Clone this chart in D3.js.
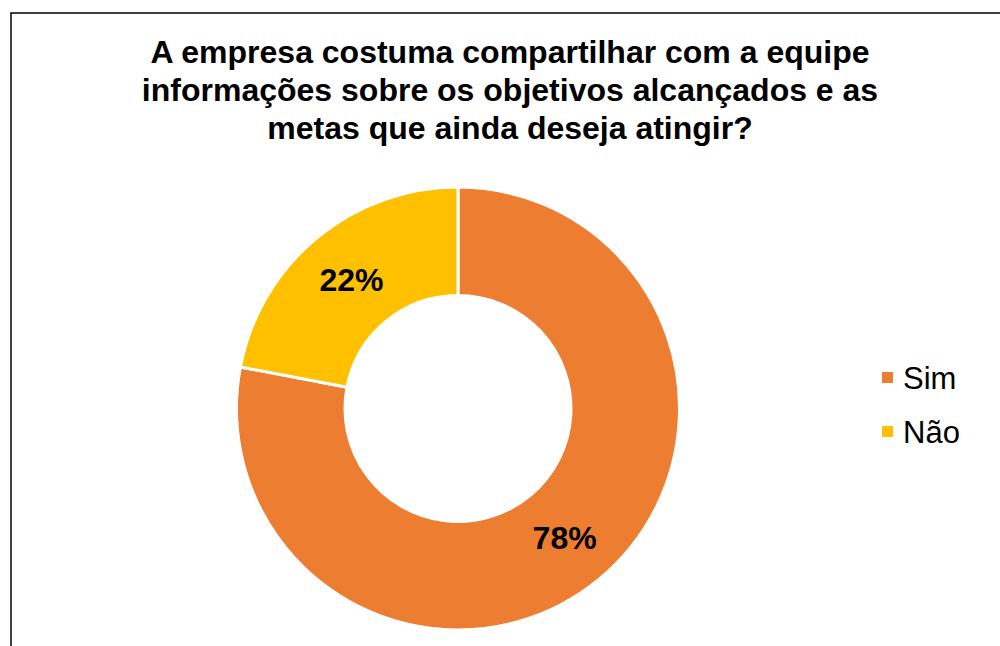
<!DOCTYPE html>
<html><head><meta charset="utf-8">
<script src="https://cdn.jsdelivr.net/npm/d3@7"></script>
<style>body{margin:0;background:#fff}svg{display:block}</style>
</head><body>
<svg id="c" width="1000" height="646"></svg>
<script>
const categories = ["Sim", "Não"];
const values = [78, 22];
const colors = ["#ED7D31", "#FFC000"];
const titleLines = ["A empresa costuma compartilhar com a equipe", "informações sobre os objetivos alcançados e as", "metas que ainda deseja atingir?"];

const svg = d3.select("#c");
svg.append("rect").attr("x", 11).attr("y", 13).attr("width", 1000).attr("height", 700)
  .attr("fill", "#fff").attr("stroke", "#000").attr("stroke-width", 1.5);

const font = "'Liberation Sans', Arial, sans-serif";
svg.append("g").selectAll("text").data(titleLines).join("text")
  .attr("x", 510).attr("y", (d, i) => 63 + i * 38)
  .attr("text-anchor", "middle").attr("font-family", font)
  .attr("font-weight", "bold").attr("font-size", 32).attr("fill", "#000")
  .text(d => d);

const cx = 458, cy = 408.5, R = 221.5, r = 113;
const pie = d3.pie().sort(null).value(d => d)(values);
const arc = d3.arc().innerRadius(r).outerRadius(R);
const g = svg.append("g").attr("transform", `translate(${cx},${cy})`);
g.selectAll("path").data(pie).join("path")
  .attr("d", arc).attr("fill", (d, i) => colors[i])
  .attr("stroke", "#fff").attr("stroke-width", 3);
g.selectAll("text").data(pie).join("text")
  .attr("transform", d => `translate(${arc.centroid(d)})`)
  .attr("text-anchor", "middle").attr("dy", "0.36em")
  .attr("font-family", font).attr("font-weight", "bold").attr("font-size", 32)
  .text(d => d.value + "%");

const leg = svg.append("g").selectAll("g").data(categories).join("g")
  .attr("transform", (d, i) => `translate(882,${372 + i * 54})`);
leg.append("rect").attr("width", 11).attr("height", 11).attr("fill", (d, i) => colors[i]);
leg.append("text").attr("x", 21).attr("y", 17).attr("font-family", font)
  .attr("font-size", 31).attr("fill", "#000").text(d => d);
</script>
</body></html>
